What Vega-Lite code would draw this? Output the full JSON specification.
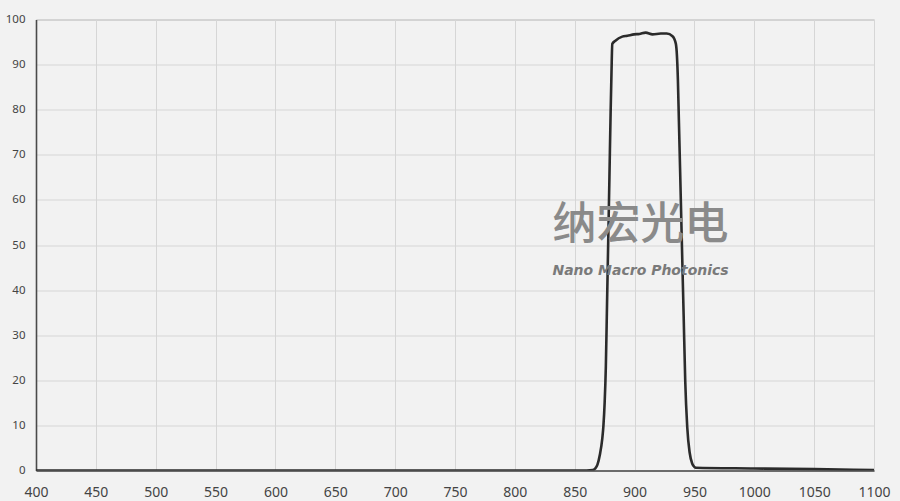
{
  "$schema": "https://vega.github.io/schema/vega-lite/v6.json",
  "autosize": {"type": "none"},
  "width": 838,
  "height": 451,
  "padding": {"left": 36, "top": 19.5, "right": 26, "bottom": 30.5},
  "background": "#f2f2f2",
  "config": {
    "view": {"stroke": "#b0b0b0", "strokeWidth": 1, "fill": "#f2f2f2"},
    "axis": {
      "labelFont": "Noto Sans",
      "labelColor": "#444444",
      "gridColor": "#d6d6d6",
      "gridWidth": 1,
      "domainColor": "#4a4a4a",
      "domainWidth": 1.6,
      "ticks": false,
      "title": null
    }
  },
  "layer": [
    {
      "data": {
        "values": [
          {"wavelength": 400, "transmission": 0},
          {"wavelength": 500, "transmission": 0},
          {"wavelength": 600, "transmission": 0},
          {"wavelength": 700, "transmission": 0},
          {"wavelength": 800, "transmission": 0},
          {"wavelength": 860, "transmission": 0},
          {"wavelength": 865, "transmission": 0.1},
          {"wavelength": 867, "transmission": 0.4},
          {"wavelength": 869, "transmission": 1.3},
          {"wavelength": 871, "transmission": 3.5},
          {"wavelength": 873, "transmission": 7},
          {"wavelength": 874, "transmission": 10},
          {"wavelength": 875, "transmission": 15},
          {"wavelength": 876, "transmission": 23},
          {"wavelength": 877, "transmission": 37},
          {"wavelength": 878, "transmission": 51},
          {"wavelength": 879, "transmission": 65},
          {"wavelength": 880, "transmission": 79.5},
          {"wavelength": 880.7, "transmission": 88},
          {"wavelength": 881.4, "transmission": 94.6},
          {"wavelength": 884, "transmission": 95.3},
          {"wavelength": 889.7, "transmission": 96.2},
          {"wavelength": 894, "transmission": 96.4},
          {"wavelength": 899.6, "transmission": 96.7},
          {"wavelength": 904, "transmission": 96.8},
          {"wavelength": 909.3, "transmission": 97.1},
          {"wavelength": 915, "transmission": 96.7},
          {"wavelength": 921.9, "transmission": 96.9},
          {"wavelength": 926.9, "transmission": 96.9},
          {"wavelength": 931.7, "transmission": 96.3},
          {"wavelength": 934.5, "transmission": 94.6},
          {"wavelength": 936.2, "transmission": 86.5},
          {"wavelength": 937, "transmission": 77.8},
          {"wavelength": 938, "transmission": 67},
          {"wavelength": 939, "transmission": 56},
          {"wavelength": 940, "transmission": 45},
          {"wavelength": 941, "transmission": 34.3},
          {"wavelength": 942.3, "transmission": 20},
          {"wavelength": 944, "transmission": 9.6},
          {"wavelength": 946, "transmission": 4},
          {"wavelength": 948.2, "transmission": 1.5},
          {"wavelength": 950, "transmission": 0.8},
          {"wavelength": 951, "transmission": 0.6},
          {"wavelength": 1000, "transmission": 0.45},
          {"wavelength": 1050, "transmission": 0.3},
          {"wavelength": 1100, "transmission": 0.1}
        ]
      },
      "mark": {"type": "line", "color": "#2b2b2b", "strokeWidth": 2.6, "interpolate": "monotone", "clip": true},
      "encoding": {
        "x": {
          "field": "wavelength",
          "type": "quantitative",
          "scale": {"domain": [400, 1100], "nice": false, "zero": false},
          "axis": {
            "values": [400, 450, 500, 550, 600, 650, 700, 750, 800, 850, 900, 950, 1000, 1050, 1100],
            "format": "d",
            "labelFontSize": 14,
            "labelPadding": 15,
            "labelFlush": false
          }
        },
        "y": {
          "field": "transmission",
          "type": "quantitative",
          "scale": {"domain": [0, 100], "nice": false},
          "axis": {
            "values": [0, 10, 20, 30, 40, 50, 60, 70, 80, 90, 100],
            "format": "d",
            "labelFontSize": 11.5,
            "labelPadding": 11
          }
        }
      }
    },
    {
      "data": {"values": [{"label": "纳宏光电"}]},
      "mark": {
        "type": "text",
        "font": "Noto Sans CJK SC",
        "fontSize": 44,
        "fontWeight": 500,
        "color": "#8a8a8a",
        "align": "center",
        "baseline": "middle"
      },
      "encoding": {
        "text": {"field": "label"},
        "x": {"datum": 905, "type": "quantitative"},
        "y": {"datum": 54.2, "type": "quantitative"}
      }
    },
    {
      "data": {"values": [{"label": "Nano Macro  Photonics"}]},
      "mark": {
        "type": "text",
        "font": "DejaVu Sans",
        "fontSize": 14,
        "fontStyle": "oblique",
        "fontWeight": "bold",
        "color": "#7a7a7a",
        "align": "center",
        "baseline": "alphabetic"
      },
      "encoding": {
        "text": {"field": "label"},
        "x": {"datum": 905, "type": "quantitative"},
        "y": {"datum": 43.4, "type": "quantitative"}
      }
    }
  ]
}
